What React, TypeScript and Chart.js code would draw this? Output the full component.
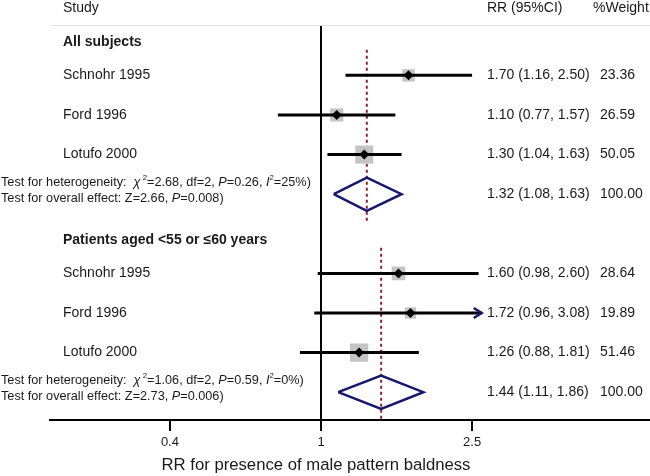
import React, { useEffect, useRef } from "react";
import { Chart, registerables } from "chart.js";

Chart.register(...registerables);

// ---------------- data ----------------
const headers = ["Study", "RR (95%CI)", "%Weight"];
const groupTitles = ["All subjects", "Patients aged <55 or \u226460 years"];
const studyNames = ["Schnohr 1995", "Ford 1996", "Lotufo 2000", "Schnohr 1995", "Ford 1996", "Lotufo 2000"];
const studyGroup = [0, 0, 0, 1, 1, 1];
const studyRR = [1.7, 1.1, 1.3, 1.6, 1.72, 1.26];
const studyLow = [1.16, 0.77, 1.04, 0.98, 0.96, 0.88];
const studyHigh = [2.5, 1.57, 1.63, 2.6, 3.08, 1.81];
const studyWeight = [23.36, 26.59, 50.05, 28.64, 19.89, 51.46];
const pooledRR = [1.32, 1.44];
const pooledLow = [1.08, 1.11];
const pooledHigh = [1.63, 1.86];
const pooledWeight = [100, 100];
const hetChi2 = [2.68, 1.06];
const hetDf = [2, 2];
const hetP = [0.26, 0.59];
const hetI2 = [25, 0];
const overallZ = [2.66, 2.73];
const overallP = [0.008, 0.006];
const xTicks = [0.4, 1, 2.5];
const xTitle = "RR for presence of male pattern baldness";

// ---------------- layout ----------------
const W = 650;
const H = 476;
const X_MIN = 0.1933;
const X_MAX = 7.353;
const CI_CLIP = 2.65;
const Y_MIN = -1.272;
const Y_MAX = 8.702;
const GROUP_STEP = 5;
const HEADING_OFFSET = -0.83;
const POOLED_OFFSET = 3;
const DIAMOND_HALF = 0.42;
const REF_TOP = -0.65;
const REF_BOTTOM = 3.68;
const FONT = '"Liberation Sans", Arial, sans-serif';
const TEXT = "#1a1a1a";
const NAVY = "#17176e";
const RED = "#8e2232";
const GRAY = "#c4c4c4";

const studyRow = studyNames.map((_, i) => {
  const g = studyGroup[i];
  let k = 0;
  for (let j = 0; j < i; j++) if (studyGroup[j] === g) k++;
  return g * GROUP_STEP + k;
});
const pooledRow = pooledRR.map((_, g) => g * GROUP_STEP + POOLED_OFFSET);
const headingRow = groupTitles.map((_, g) => g * GROUP_STEP + HEADING_OFFSET);

const f2 = (v: number) => v.toFixed(2);
const ciText = (r: number, l: number, h: number) => `${f2(r)} (${f2(l)}, ${f2(h)})`;

type Seg = { t: string; it?: boolean; sup?: boolean };

function drawRich(ctx: CanvasRenderingContext2D, x: number, y: number, segs: Seg[], size: number) {
  let cx = x;
  for (const s of segs) {
    const fs = s.sup ? size * 0.62 : size;
    ctx.font = `${s.it ? "italic " : ""}${fs}px ${FONT}`;
    ctx.fillText(s.t, cx, s.sup ? y - size * 0.38 : y);
    cx += ctx.measureText(s.t).width;
  }
}

const textPlugin = {
  id: "forestText",
  afterDraw(chart: any) {
    const { ctx, chartArea, scales } = chart;
    const xs = scales.x;
    const ys = scales.y;
    ctx.save();
    // header rule
    ctx.strokeStyle = "#e4e4e4";
    ctx.lineWidth = 1;
    ctx.beginPath();
    ctx.moveTo(chartArea.left, chartArea.top + 0.5);
    ctx.lineTo(chartArea.right, chartArea.top + 0.5);
    ctx.stroke();

    ctx.fillStyle = TEXT;
    ctx.textBaseline = "middle";
    ctx.textAlign = "left";
    ctx.font = `14px ${FONT}`;
    ctx.fillText(headers[0], 63, 8);
    ctx.fillText(headers[1], 487, 8);
    ctx.fillText(headers[2], 593, 8);

    // group headings
    ctx.font = `bold 14px ${FONT}`;
    groupTitles.forEach((t, g) => ctx.fillText(t, 63, ys.getPixelForValue(headingRow[g])));

    // studies
    ctx.font = `14px ${FONT}`;
    studyNames.forEach((n, i) => {
      const y = ys.getPixelForValue(studyRow[i]);
      ctx.fillText(n, 63, y);
      ctx.fillText(ciText(studyRR[i], studyLow[i], studyHigh[i]), 487, y);
      ctx.fillText(f2(studyWeight[i]), 600, y);
    });
    pooledRR.forEach((r, g) => {
      const y = ys.getPixelForValue(pooledRow[g]);
      ctx.font = `14px ${FONT}`;
      ctx.fillText(ciText(r, pooledLow[g], pooledHigh[g]), 487, y);
      ctx.fillText(f2(pooledWeight[g]), 600, y);
      const size = 12.7;
      drawRich(ctx, 1, y - 11.5, [
        { t: "Test for heterogeneity:  " },
        { t: "\u03c7", it: true },
        { t: " 2", sup: true },
        { t: `=${f2(hetChi2[g])}, df=${hetDf[g]}, ` },
        { t: "P", it: true },
        { t: `=${f2(hetP[g])}, ` },
        { t: "I", it: true },
        { t: "2", sup: true },
        { t: `=${hetI2[g]}%)` },
      ], size);
      drawRich(ctx, 1, y + 4.5, [
        { t: `Test for overall effect: Z=${f2(overallZ[g])}, ` },
        { t: "P", it: true },
        { t: `=${overallP[g].toFixed(3)})` },
      ], size);
    });

    // arrows for clipped CIs
    ctx.strokeStyle = NAVY;
    ctx.lineWidth = 2.5;
    ctx.lineJoin = "miter";
    studyHigh.forEach((h, i) => {
      if (h > CI_CLIP) {
        const x = xs.getPixelForValue(CI_CLIP);
        const y = ys.getPixelForValue(studyRow[i]);
        ctx.beginPath();
        ctx.moveTo(x - 8, y - 5);
        ctx.lineTo(x, y);
        ctx.lineTo(x - 8, y + 5);
        ctx.stroke();
      }
    });

    // x title
    ctx.fillStyle = TEXT;
    ctx.textAlign = "center";
    ctx.font = `16.7px ${FONT}`;
    ctx.fillText(xTitle, 316, 465);
    ctx.restore();
  },
};

export default function App() {
  const ref = useRef<HTMLCanvasElement | null>(null);
  useEffect(() => {
    if (!ref.current) return;
    const ciData: any[] = [];
    studyRR.forEach((_, i) => {
      ciData.push({ x: studyLow[i], y: studyRow[i] });
      ciData.push({ x: Math.min(studyHigh[i], CI_CLIP), y: studyRow[i] });
      ciData.push({ x: studyLow[i], y: null });
    });
    const diamondData: any[] = [];
    pooledRR.forEach((r, g) => {
      const y = pooledRow[g];
      diamondData.push({ x: pooledLow[g], y });
      diamondData.push({ x: r, y: y - DIAMOND_HALF });
      diamondData.push({ x: pooledHigh[g], y });
      diamondData.push({ x: r, y: y + DIAMOND_HALF });
      diamondData.push({ x: pooledLow[g], y });
      diamondData.push({ x: r, y: null });
    });
    const refData: any[] = [];
    pooledRR.forEach((r, g) => {
      refData.push({ x: r, y: g * GROUP_STEP + REF_TOP });
      refData.push({ x: r, y: g * GROUP_STEP + REF_BOTTOM });
      refData.push({ x: r, y: null });
    });
    const chart = new Chart(ref.current, {
      type: "line",
      data: {
        datasets: [
          {
            data: studyRR.map((r, i) => ({ x: r, y: studyRow[i] })),
            showLine: false,
            pointStyle: "rectRot",
            pointRadius: 5,
            pointBackgroundColor: "#000",
            pointBorderWidth: 0,
          },
          {
            data: ciData,
            borderColor: "#000",
            borderWidth: 3,
            pointRadius: 0,
            spanGaps: false,
          },
          {
            data: diamondData,
            borderColor: NAVY,
            borderWidth: 2.5,
            pointRadius: 0,
            spanGaps: false,
            borderJoinStyle: "miter",
            fill: false,
          },
          {
            data: studyRR.map((r, i) => ({ x: r, y: studyRow[i] })),
            showLine: false,
            pointStyle: "rect",
            pointRadius: studyWeight.map((w) => (2.55 * Math.sqrt(w)) / Math.SQRT2),
            pointBackgroundColor: GRAY,
            pointBorderWidth: 0,
          },
          {
            data: refData,
            borderColor: RED,
            borderWidth: 2,
            borderDash: [3, 3],
            pointRadius: 0,
            spanGaps: false,
          },
        ] as any,
      },
      options: {
        animation: false,
        responsive: false,
        maintainAspectRatio: false,
        layout: { autoPadding: false, padding: { left: 50, right: 0, top: 25, bottom: 21.4 } },
        plugins: { legend: { display: false }, tooltip: { enabled: false }, title: { display: false } },
        scales: {
          x: {
            type: "logarithmic",
            min: X_MIN,
            max: X_MAX,
            bounds: "data",
            afterBuildTicks: (scale: any) => {
              scale.ticks = xTicks.map((v) => ({ value: v }));
            },
            ticks: {
              color: TEXT,
              font: { family: FONT, size: 13 },
              padding: 4,
              maxRotation: 0,
              autoSkip: false,
              callback: (v: any) => String(v),
            },
            grid: {
              color: (c: any) => (c.tick && c.tick.value === 1 ? "#000" : "rgba(0,0,0,0)"),
              lineWidth: 2,
              drawTicks: true,
              tickLength: 11,
              tickColor: "#000",
              tickWidth: 2,
            },
            border: { display: true, color: "#000", width: 2 },
          },
          y: {
            type: "linear",
            display: false,
            reverse: true,
            min: Y_MIN,
            max: Y_MAX,
          },
        },
      } as any,
      plugins: [textPlugin],
    });
    return () => chart.destroy();
  }, []);
  return (
    <div style={{ position: "fixed", left: 0, top: 0, width: W, height: H, background: "#fff" }}>
      <canvas ref={ref} width={W} height={H} style={{ display: "block", width: W, height: H }} />
    </div>
  );
}
